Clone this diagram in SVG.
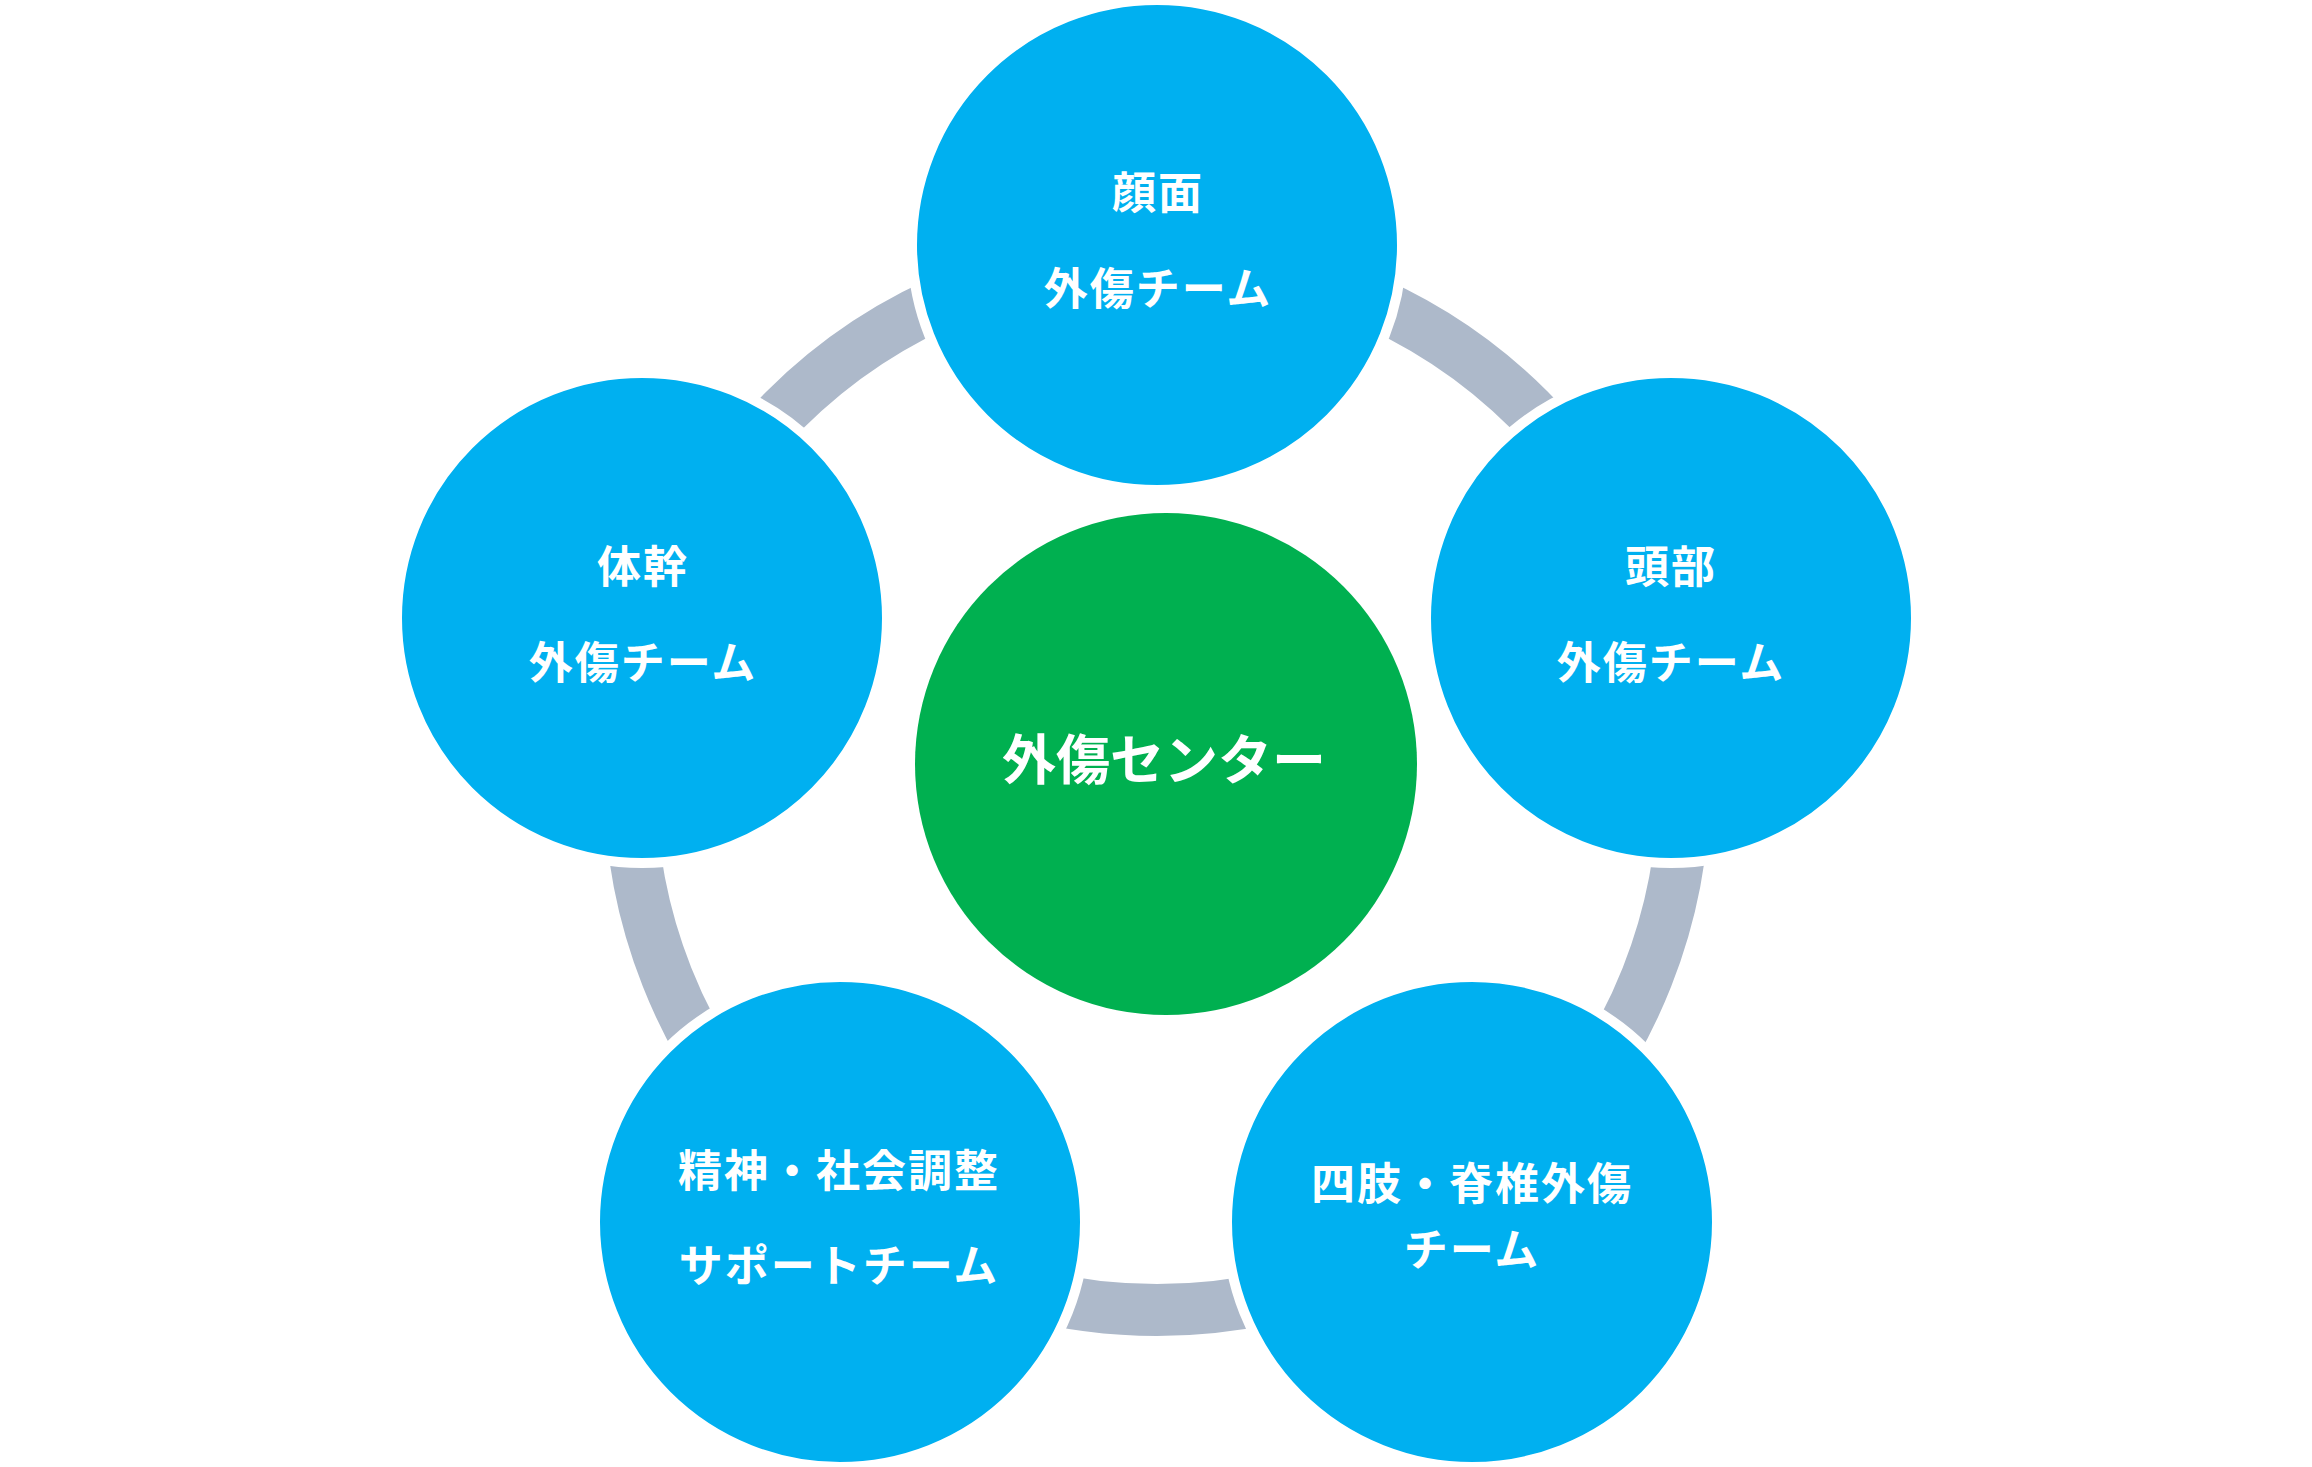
<svg xmlns="http://www.w3.org/2000/svg" width="2312" height="1467" viewBox="0 0 2312 1467">
<style>
.node{fill:#00B0F0;stroke:#FFFFFF;stroke-width:10}
.center{fill:#00B050}
.ring{fill:none;stroke:#ADB9CA;stroke-width:52}
.lbl{font-family:"Noto Sans CJK JP","Noto Sans",sans-serif;font-weight:700;font-size:44px;fill:#FFFFFF;text-anchor:middle;letter-spacing:2px}
.clbl{font-family:"Noto Sans CJK JP","Noto Sans",sans-serif;font-weight:700;font-size:54px;fill:#FFFFFF;text-anchor:middle}
</style>
<rect width="2312" height="1467" fill="#FFFFFF"/>
<g id="connectors">
<circle class="ring" cx="1157" cy="783" r="527"/>
</g>
<g id="node-center">
<circle class="center" cx="1166" cy="764" r="251"/>
<text class="clbl" x="1164" y="780">外傷センター</text>
</g>
<g id="node-face">
<circle class="node" cx="1157" cy="245" r="245"/>
<text class="lbl" x="1158" y="209">顔面</text>
<text class="lbl" x="1158" y="305">外傷チーム</text>
</g>
<g id="node-head">
<circle class="node" cx="1671" cy="618" r="245"/>
<text class="lbl" x="1671" y="583">頭部</text>
<text class="lbl" x="1671" y="679">外傷チーム</text>
</g>
<g id="node-limbs">
<circle class="node" cx="1472" cy="1222" r="245"/>
<text class="lbl" x="1472" y="1200">四肢・脊椎外傷</text>
<text class="lbl" x="1472" y="1266">チーム</text>
</g>
<g id="node-support">
<circle class="node" cx="840" cy="1222" r="245"/>
<text class="lbl" x="839" y="1187">精神・社会調整</text>
<text class="lbl" x="839" y="1282">サポートチーム</text>
</g>
<g id="node-trunk">
<circle class="node" cx="642" cy="618" r="245"/>
<text class="lbl" x="643" y="583">体幹</text>
<text class="lbl" x="643" y="679">外傷チーム</text>
</g>
</svg>
